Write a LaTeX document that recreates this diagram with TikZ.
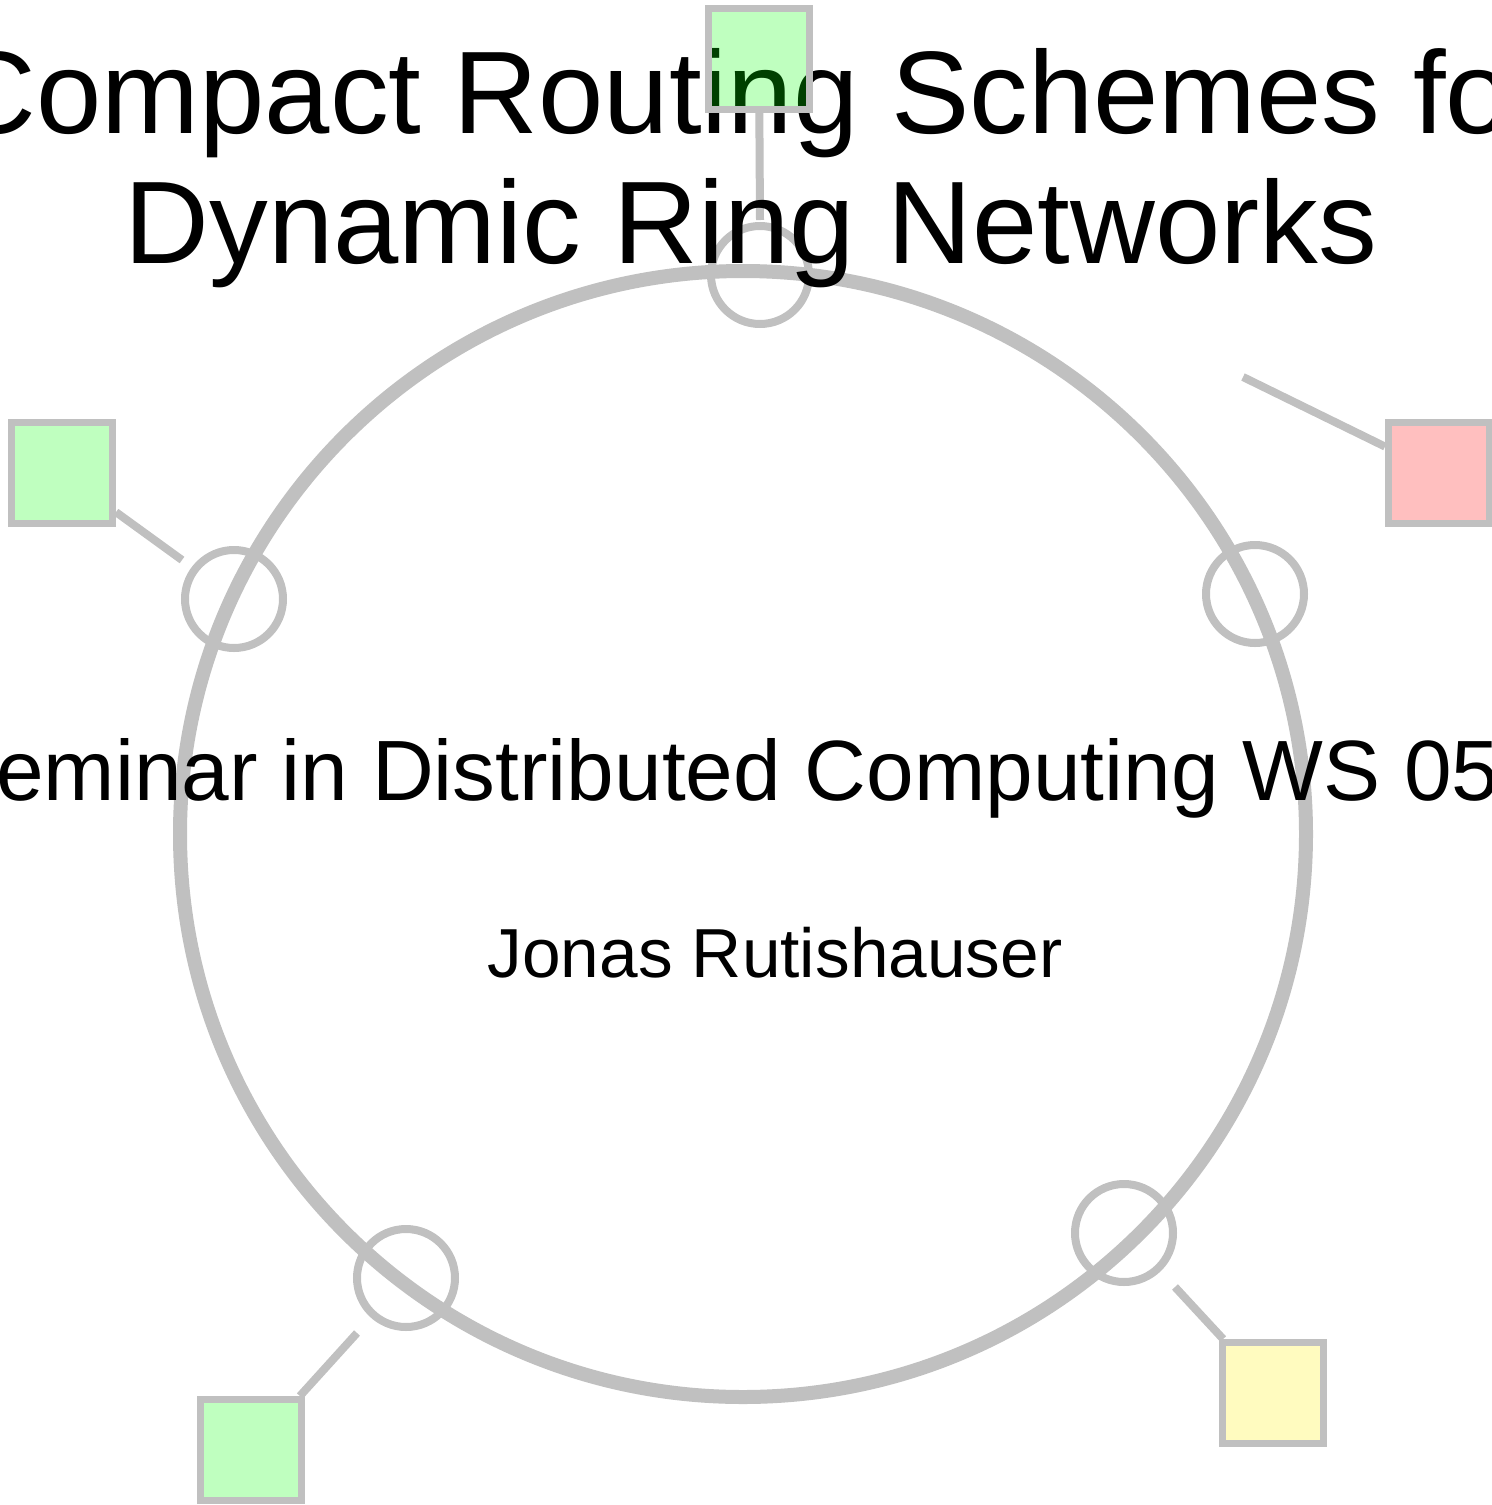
\documentclass[tikz,border=0pt]{standalone}
\usepackage{fontspec}
\setmainfont{Liberation Sans}
\definecolor{ringgray}{RGB}{192,192,192}
\pgfdeclarelayer{background}
\pgfsetlayers{background,main}
\begin{document}
\begin{tikzpicture}[x=0.5pt,y=-0.5pt,
  ringline/.style={circle,draw=ringgray,line width=7pt,minimum size=563pt,inner sep=0pt},
  hub/.style={circle,draw=ringgray,line width=4pt,minimum size=49pt,inner sep=0pt},
  link/.style={draw=ringgray,line width=4pt},
  host/.style={rectangle,draw=ringgray,line width=3.5pt,fill opacity=0.25,minimum size=50.5pt,inner sep=0pt},
  txt/.style={inner sep=0pt,text=black}]
\clip (0,0) rectangle (1492,1505);
% texts
\node[txt,font=\fontsize{58.7}{65}\selectfont,anchor=base] (title1) at (751,133) {Compact Routing Schemes for};
\node[txt,font=\fontsize{58.7}{65}\selectfont,anchor=base] (title2) at (751,263) {Dynamic Ring Networks};
\node[txt,font=\fontsize{42.8}{50}\selectfont,anchor=base] (sub) at (779,800) {Seminar in Distributed Computing WS 05/06};
\node[txt,font=\fontsize{34.7}{40}\selectfont,anchor=base] (auth) at (775,977) {Jonas Rutishauser};
% hosts
\node[host,fill=green] (sT) at (759,59) {};
\node[host,fill=red] (sR) at (1439,473) {};
\node[host,fill=green] (sL) at (62,473) {};
\node[host,fill=green] (sBL) at (251,1450) {};
\node[host,fill=yellow] (sBR) at (1273,1393) {};
\begin{pgfonlayer}{background}
  \fill[white] (0,0) rectangle (1492,1505);
  \node[ringline] (ring) at (743,834) {};
  \node[hub] (hT) at (760,275) {};
  \node[hub] (hR) at (1255,594) {};
  \node[hub] (hL) at (234,599) {};
  \node[hub] (hBL) at (406,1278) {};
  \node[hub] (hBR) at (1124,1233) {};
  \coordinate (eT) at (760,220);
  \coordinate (eR) at (1243,377);
  \coordinate (eL) at (182,560);
  \coordinate (eBL) at (357,1333);
  \coordinate (eBR) at (1175,1287);
  \draw[link] (eT) -- (sT);
  \draw[link] (eR) -- (sR);
  \draw[link] (eL) -- (sL);
  \draw[link] (eBL) -- (sBL);
  \draw[link] (eBR) -- (sBR);
\end{pgfonlayer}
\end{tikzpicture}
\end{document}
